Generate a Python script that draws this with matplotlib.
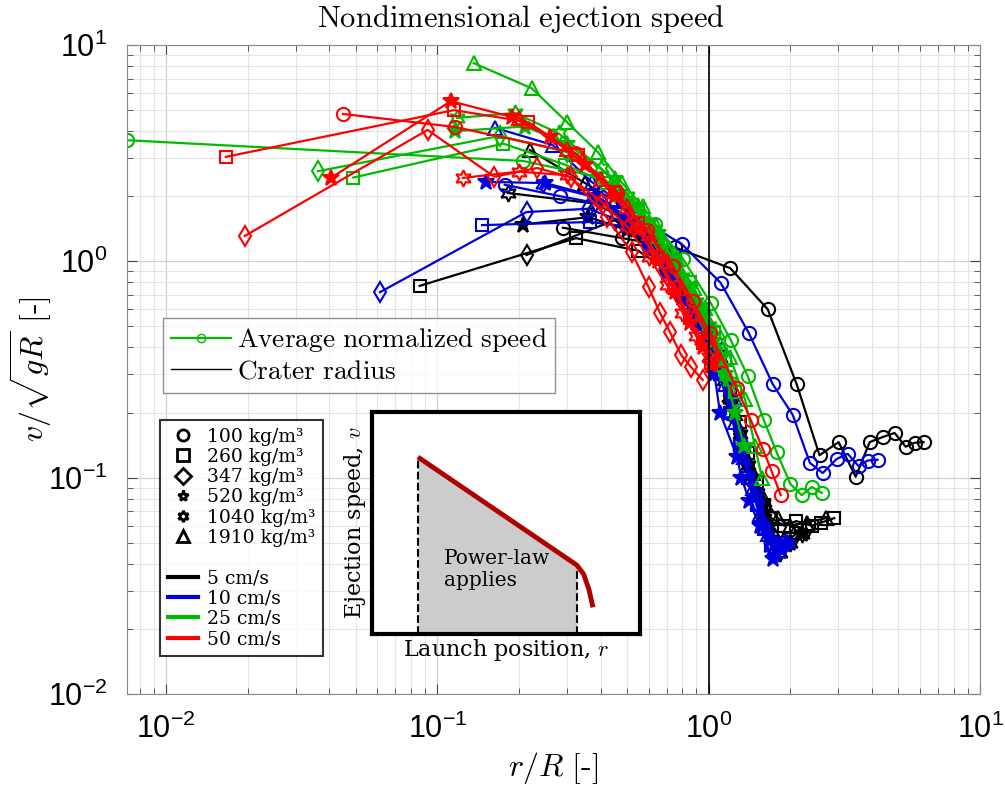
import numpy as np
import matplotlib
matplotlib.use("Agg")
import matplotlib.pyplot as plt
from matplotlib.lines import Line2D
from matplotlib.ticker import LogLocator, NullFormatter

plt.rcParams['mathtext.fontset'] = 'cm'
plt.rcParams['font.family'] = ['Liberation Sans', 'DejaVu Sans']

# ============================================
# Données : r/R et v/sqrt(gR) par vitesse d'impact et densité
# ============================================

# --- 5 cm/s (noir) ---
r_k_circ = [0.29, 0.48, 0.75, 1.2, 1.65, 2.11, 2.56, 3.01, 3.48, 3.92, 4.37, 4.84, 5.32, 5.74, 6.19]
v_k_circ = [1.43, 1.28, 1.16, 0.93, 0.60, 0.27, 0.127, 0.146, 0.101, 0.146, 0.154, 0.161, 0.139, 0.145, 0.146]
r_k_sq = [0.086, 0.324, 0.55, 0.75, 0.9, 1.0, 1.1, 1.2, 1.3, 1.4, 1.5, 1.6, 1.7, 1.9, 2.1, 2.4, 2.6, 2.9]
v_k_sq = [0.77, 1.28, 1.12, 0.85, 0.6, 0.48, 0.36, 0.26, 0.18, 0.13, 0.095, 0.075, 0.065, 0.06, 0.063, 0.06, 0.062, 0.065]
r_k_dia = [0.213, 0.45, 0.6, 0.75, 0.9, 1.0, 1.1, 1.2, 1.3, 1.4, 1.5, 1.6, 1.75, 1.9, 2.1, 2.3]
v_k_dia = [1.07, 1.55, 1.2, 0.85, 0.58, 0.45, 0.33, 0.23, 0.16, 0.115, 0.085, 0.065, 0.052, 0.05, 0.055, 0.058]
r_k_pent = [0.207, 0.36, 0.5, 0.6, 0.7, 0.8, 0.9, 1.0, 1.1, 1.2, 1.34, 1.45, 1.58, 1.68, 1.8, 2.0, 2.2]
v_k_pent = [1.48, 1.6, 1.4, 1.15, 0.9, 0.7, 0.55, 0.44, 0.32, 0.22, 0.134, 0.1, 0.076, 0.06, 0.048, 0.05, 0.055]
r_k_hex = [0.182, 0.38, 0.5, 0.6, 0.7, 0.8, 0.9, 1.0, 1.1, 1.2, 1.3, 1.4, 1.5, 1.6, 1.7, 1.83, 2.0, 2.2]
v_k_hex = [2.07, 1.85, 1.55, 1.2, 0.92, 0.72, 0.56, 0.45, 0.33, 0.23, 0.16, 0.115, 0.085, 0.065, 0.052, 0.045, 0.05, 0.055]
r_k_tri = [0.219, 0.35, 0.45, 0.55, 0.65, 0.75, 0.85, 0.95, 1.05, 1.15, 1.25, 1.35, 1.45, 1.6, 1.8, 2.0, 2.3, 2.7]
v_k_tri = [3.27, 2.3, 1.9, 1.5, 1.15, 0.9, 0.68, 0.52, 0.4, 0.29, 0.2, 0.14, 0.105, 0.08, 0.065, 0.06, 0.062, 0.065]

# --- 10 cm/s (bleu) ---
r_b_circ = [0.177, 0.283, 0.478, 0.796, 1.107, 1.404, 1.72, 2.04, 2.36, 2.63, 2.96, 3.25, 3.57, 3.85, 4.19]
v_b_circ = [2.26, 2.0, 1.77, 1.2, 0.795, 0.467, 0.271, 0.195, 0.117, 0.105, 0.122, 0.129, 0.113, 0.12, 0.121]
r_b_sq = [0.146, 0.364, 0.5, 0.6, 0.7, 0.8, 0.9, 1.0, 1.1, 1.2, 1.3, 1.4, 1.5, 1.6, 1.7, 1.85]
v_b_sq = [1.47, 1.52, 1.45, 1.2, 0.92, 0.7, 0.55, 0.43, 0.3, 0.2, 0.14, 0.1, 0.075, 0.058, 0.05, 0.05]
r_b_dia = [0.0614, 0.213, 0.36, 0.5, 0.6, 0.7, 0.8, 0.9, 1.0, 1.12, 1.25, 1.35, 1.5, 1.65, 1.8]
v_b_dia = [0.72, 1.69, 1.75, 1.5, 1.22, 0.95, 0.72, 0.56, 0.47, 0.38, 0.22, 0.14, 0.085, 0.055, 0.048]
r_b_pent = [0.151, 0.25, 0.38, 0.5, 0.6, 0.7, 0.8, 0.9, 1.0, 1.05, 1.1, 1.27, 1.32, 1.41, 1.54, 1.72, 1.85, 1.95]
v_b_pent = [2.33, 2.3, 2.0, 1.55, 1.15, 0.88, 0.68, 0.52, 0.42, 0.3, 0.2, 0.125, 0.1, 0.078, 0.06, 0.042, 0.048, 0.05]
r_b_hex = [0.245, 0.4, 0.5, 0.6, 0.7, 0.8, 0.9, 1.0, 1.1, 1.2, 1.3, 1.4, 1.5, 1.6, 1.7, 1.8, 1.95]
v_b_hex = [2.27, 1.95, 1.6, 1.2, 0.9, 0.7, 0.54, 0.43, 0.3, 0.2, 0.14, 0.1, 0.075, 0.058, 0.048, 0.045, 0.05]
r_b_tri = [0.163, 0.266, 0.37, 0.45, 0.55, 0.65, 0.75, 0.85, 0.95, 1.05, 1.15, 1.25, 1.35, 1.45, 1.55, 1.65, 1.75]
v_b_tri = [4.14, 3.45, 2.33, 1.95, 1.5, 1.12, 0.85, 0.65, 0.5, 0.38, 0.27, 0.18, 0.125, 0.09, 0.068, 0.055, 0.048]

# --- 25 cm/s (vert) ---
r_g_circ = [0.00718, 0.207, 0.407, 0.633, 0.802, 1.017, 1.205, 1.392, 1.594, 1.78, 2.0, 2.2, 2.4, 2.61]
v_g_circ = [3.63, 2.91, 2.43, 1.49, 1.03, 0.642, 0.433, 0.295, 0.185, 0.131, 0.0935, 0.083, 0.0906, 0.085]
r_g_sq = [0.049, 0.175, 0.295, 0.42, 0.55, 0.65, 0.75, 0.85, 0.95, 1.05, 1.15, 1.25]
v_g_sq = [2.44, 3.5, 2.8, 2.3, 1.7, 1.3, 1.0, 0.8, 0.6, 0.47, 0.35, 0.25]
r_g_dia = [0.0363, 0.17, 0.3, 0.45, 0.55, 0.65, 0.75, 0.85, 0.95, 1.05, 1.15]
v_g_dia = [2.61, 3.8, 3.2, 2.1, 1.65, 1.25, 0.95, 0.72, 0.55, 0.4, 0.3]
r_g_pent = [0.116, 0.21, 0.3, 0.45, 0.55, 0.65, 0.75, 0.85, 0.95, 1.05, 1.15, 1.25, 1.35]
v_g_pent = [4.0, 4.2, 3.5, 2.4, 1.8, 1.35, 1.0, 0.75, 0.58, 0.43, 0.3, 0.2, 0.14]
r_g_hex = [0.118, 0.193, 0.28, 0.4, 0.5, 0.6, 0.7, 0.8, 0.9, 1.0, 1.1, 1.2]
v_g_hex = [4.6, 4.85, 3.9, 2.7, 2.0, 1.5, 1.12, 0.85, 0.65, 0.5, 0.38, 0.28]
r_g_tri = [0.136, 0.223, 0.30, 0.39, 0.48, 0.57, 0.64, 0.76, 0.88, 0.97, 1.08, 1.2, 1.36, 1.48, 1.57]
v_g_tri = [8.25, 6.3, 4.4, 3.2, 2.3, 1.8, 1.47, 1.05, 0.75, 0.61, 0.47, 0.36, 0.23, 0.14, 0.1]

# --- 50 cm/s (rouge) ---
r_r_circ = [0.0449, 0.116, 0.321, 0.458, 0.591, 0.737, 0.873, 1.009, 1.268, 1.428, 1.581, 1.706, 1.842]
v_r_circ = [4.8, 4.18, 3.17, 2.07, 1.4, 0.952, 0.656, 0.467, 0.26, 0.185, 0.136, 0.107, 0.083]
r_r_sq = [0.0166, 0.115, 0.216, 0.33, 0.45, 0.55, 0.65, 0.75, 0.85, 0.95, 1.02]
v_r_sq = [3.04, 5.0, 4.4, 3.1, 2.1, 1.5, 1.05, 0.75, 0.55, 0.42, 0.34]
r_r_dia = [0.0195, 0.092, 0.162, 0.233, 0.31, 0.42, 0.52, 0.6, 0.66, 0.72, 0.79, 0.86, 0.95]
v_r_dia = [1.31, 4.05, 2.46, 2.7, 2.45, 1.6, 1.1, 0.76, 0.58, 0.47, 0.37, 0.325, 0.283]
r_r_pent = [0.0405, 0.112, 0.188, 0.26, 0.35, 0.45, 0.55, 0.65, 0.75, 0.85, 0.95, 1.02]
v_r_pent = [2.43, 5.5, 4.65, 3.76, 2.8, 2.0, 1.4, 1.0, 0.72, 0.52, 0.4, 0.33]
r_r_hex = [0.124, 0.2, 0.3, 0.4, 0.5, 0.6, 0.7, 0.8, 0.9, 1.0]
v_r_hex = [2.43, 2.6, 2.5, 1.9, 1.45, 1.05, 0.78, 0.58, 0.45, 0.36]
r_r_tri = [0.2, 0.3, 0.4, 0.5, 0.6, 0.7, 0.8, 0.9, 1.0, 1.1]
v_r_tri = [4.6, 3.3, 2.4, 1.8, 1.35, 1.0, 0.75, 0.57, 0.45, 0.35]

densites = ["100 kg/m³", "260 kg/m³", "347 kg/m³", "520 kg/m³", "1040 kg/m³", "1910 kg/m³"]
vitesses = ["5 cm/s", "10 cm/s", "25 cm/s", "50 cm/s"]

# --- schéma de l'encart (coordonnées normalisées) ---
encart_x = [0.172, 0.765, 0.79, 0.81, 0.825]
encart_y = [0.797, 0.31, 0.27, 0.2, 0.12]

# ============================================
# Figure
# ============================================
couleurs = {"k": "black", "b": "#0000dd", "g": "#00bb00", "r": "#ff0000"}
HEX = (6, 1, 0)
styles = {
    "circ": dict(marker="o", ms=9.5, mfc="none"),
    "sq": dict(marker="s", ms=8, mfc="none"),
    "dia": dict(marker="d", ms=10, mfc="none"),
    "pent": dict(marker="*", ms=12),
    "hex": dict(marker=HEX, ms=12, mfc="none"),
    "tri": dict(marker="^", ms=10, mfc="none"),
}

series = [
    ("k", "circ", r_k_circ, v_k_circ), ("k", "sq", r_k_sq, v_k_sq), ("k", "dia", r_k_dia, v_k_dia),
    ("k", "pent", r_k_pent, v_k_pent), ("k", "hex", r_k_hex, v_k_hex), ("k", "tri", r_k_tri, v_k_tri),
    ("b", "circ", r_b_circ, v_b_circ), ("b", "sq", r_b_sq, v_b_sq), ("b", "dia", r_b_dia, v_b_dia),
    ("b", "pent", r_b_pent, v_b_pent), ("b", "hex", r_b_hex, v_b_hex), ("b", "tri", r_b_tri, v_b_tri),
    ("g", "circ", r_g_circ, v_g_circ), ("g", "sq", r_g_sq, v_g_sq), ("g", "dia", r_g_dia, v_g_dia),
    ("g", "pent", r_g_pent, v_g_pent), ("g", "hex", r_g_hex, v_g_hex), ("g", "tri", r_g_tri, v_g_tri),
    ("r", "circ", r_r_circ, v_r_circ), ("r", "sq", r_r_sq, v_r_sq), ("r", "dia", r_r_dia, v_r_dia),
    ("r", "pent", r_r_pent, v_r_pent), ("r", "hex", r_r_hex, v_r_hex), ("r", "tri", r_r_tri, v_r_tri),
]

fig = plt.figure(figsize=(10.05, 8), dpi=100)
ax = fig.add_axes([0.1264, 0.1325, 0.8488, 0.81125])

for c, m, r, v in series:
    ax.plot(r, v, color=couleurs[c], lw=1.6, mew=1.5, **styles[m])

ax.axvline(1.0, color="black", lw=1.2)

ax.set_xscale("log")
ax.set_yscale("log")
ax.set_xlim(0.00718, 10)
ax.set_ylim(0.01, 10)
ax.set_xticks([1e-2, 1e-1, 1e0, 1e1])
ax.set_yticks([1e-2, 1e-1, 1e0, 1e1])
ax.xaxis.set_minor_locator(LogLocator(base=10, subs=np.arange(2, 10)))
ax.yaxis.set_minor_locator(LogLocator(base=10, subs=np.arange(2, 10)))
ax.xaxis.set_minor_formatter(NullFormatter())
ax.yaxis.set_minor_formatter(NullFormatter())
ax.tick_params(which="both", direction="in", top=True, right=True, labelsize=22, color="#444444")
ax.tick_params(which="major", length=7, pad=14)
ax.tick_params(which="minor", length=4)
ax.grid(which="major", color="#d0d0d0", lw=0.9)
ax.grid(which="minor", color="#e4e4e4", lw=0.8)
for s in ax.spines.values():
    s.set_color("#888888")

ax.set_xlabel(r"$r/R\ \text{[-]}$", fontsize=23, labelpad=4)
ax.set_ylabel(r"$v/\sqrt{gR}\ \text{[-]}$", fontsize=23, labelpad=-4)
fig.text(0.518, 0.976, r"$\mathrm{Nondimensional\ ejection\ speed}$", ha="center", va="center", fontsize=22)

# --- légende principale ---
h1 = [Line2D([], [], color="#00bb00", lw=1.6, marker="o", ms=6, mfc="none"),
      Line2D([], [], color="black", lw=1.0)]
lab1 = [r"$\mathrm{Average\ normalized\ speed}$", r"$\mathrm{Crater\ radius}$"]
leg1 = ax.legend(h1, lab1, loc="upper left", bbox_to_anchor=(0.042, 0.579), fontsize=19.7,
                 frameon=True, fancybox=False, edgecolor="#777777", handlelength=2.2,
                 handletextpad=0.2, borderpad=0.3, labelspacing=0.15, borderaxespad=0)
leg1.get_frame().set_linewidth(1.0)
ax.add_artist(leg1)

# --- légende densités / vitesses ---
marq = ["o", "s", "D", "*", HEX, "^"]
h2 = [Line2D([], [], ls="none", marker=mk, color="black", mfc="none", mew=2, ms=8) for mk in marq]
h2 += [Line2D([], [], color="none")]
h2 += [Line2D([], [], color=couleurs[c], lw=3) for c in ["k", "b", "g", "r"]]
lab2 = densites + [" "] + vitesses
leg2 = ax.legend(h2, lab2, loc="upper left", bbox_to_anchor=(0.0387, 0.422),
                 prop={"family": "DejaVu Serif", "size": 13.5}, frameon=True, fancybox=False,
                 edgecolor="black", handlelength=1.6, handletextpad=0.5, borderpad=0.4,
                 labelspacing=0.12, borderaxespad=0)
leg2.get_frame().set_linewidth(1.5)

# --- encart schématique ---
ins = fig.add_axes([0.370, 0.2075, 0.2667, 0.2775])
ins.set_xlim(0, 1)
ins.set_ylim(0, 1)
ins.set_xticks([])
ins.set_yticks([])
for s in ins.spines.values():
    s.set_linewidth(3)
ins.fill_between(encart_x[:2], encart_y[:2], 0, color="#cccccc", lw=0)
ins.plot([encart_x[0], encart_x[0]], [0, encart_y[0]], "k--", lw=1.5)
ins.plot([encart_x[1], encart_x[1]], [0, encart_y[1]], "k--", lw=1.5)
ins.plot(encart_x, encart_y, color="#b00000", lw=3.5, solid_capstyle="butt")
ins.text(0.27, 0.29, "Power-law\napplies", fontsize=14.5, family="DejaVu Serif", va="center", linespacing=1.15)
ins.set_ylabel("Ejection speed, $v$", fontsize=16, family="DejaVu Serif", labelpad=3)
ins.set_xlabel("Launch position, $r$", fontsize=16, family="DejaVu Serif", labelpad=2)

fig.savefig("out.png", dpi=100)
